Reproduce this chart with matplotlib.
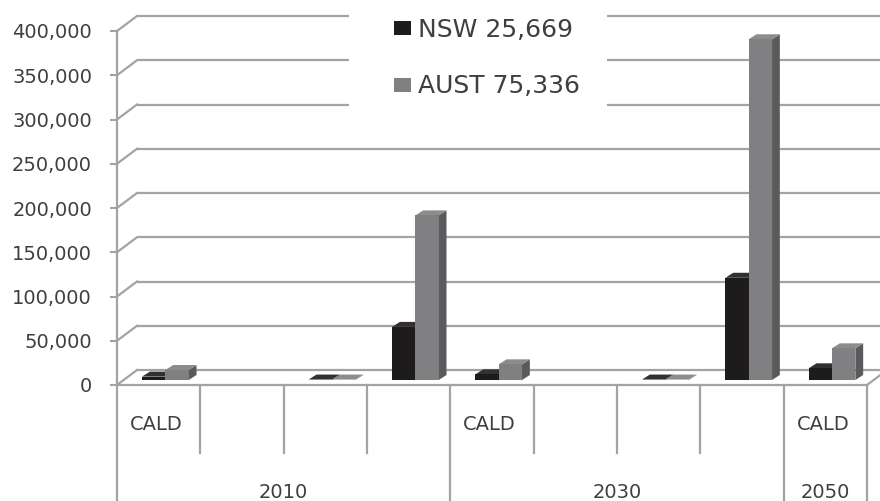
import numpy as np
import matplotlib
matplotlib.use("Agg")
import matplotlib.pyplot as plt
from matplotlib.patches import Polygon, Rectangle
import matplotlib.transforms as mtransforms

# ---- data -------------------------------------------------------------
categories = ["CALD", "", "", "", "CALD", "", "", "", "CALD"]
groups = ["2010", "2030", "2050"]
group_sizes = [4, 4, 1]
nsw = [3800, np.nan, 500, 60000, 6400, np.nan, 500, 115500, 13200]
aust = [11300, np.nan, 500, 186000, 17700, np.nan, 500, 385000, 35800]
series_labels = ["NSW 25,669", "AUST 75,336"]
yticks = [0, 50000, 100000, 150000, 200000, 250000, 300000, 350000, 400000]

# ---- style ------------------------------------------------------------
W, H, DPI = 880, 501, 100
grid_c = "#a3a3a3"
text_c = "#3f3f3f"
nsw_cols = dict(front="#1e1b1c", top="#323031", side="#141213")
aust_cols = dict(front="#808083", top="#8c8c8e", side="#5a5a5c")

fig = plt.figure(figsize=(W / DPI, H / DPI), dpi=DPI)
fig.patch.set_facecolor("white")

# plotting area: category 0..9 along x, value 0..400000 along y
ax_l, ax_r, ax_top, ax_bot = 117, 867, 31, 385
ax = fig.add_axes([ax_l / W, (H - ax_bot) / H, (ax_r - ax_l) / W, (ax_bot - ax_top) / H])
ncat = len(categories)
ax.set_xlim(0, ncat)
ax.set_ylim(0, max(yticks))
ax.set_facecolor("none")
for s in ax.spines.values():
    s.set_visible(False)
ax.set_xticks([])

px_x = (ax_r - ax_l) / ncat            # pixels per category
px_y = (ax_bot - ax_top) / max(yticks)  # pixels per value unit


def dx(p):
    return p / px_x


def dy(p):
    return p / px_y


# depth of the floor / walls, in pixels
DEPTH = (20, 15)
FRONT = (6.7, 5.0)    # front plane of the columns
BACK = (14.5, 10.0)   # back plane of the columns

# y axis ticks and labels
ax.set_yticks(yticks)
ax.set_yticklabels([f"{v:,}" for v in yticks])
ax.tick_params(axis="y", direction="out", length=5, width=1.5, color=grid_c,
               pad=13, labelsize=14, labelcolor=text_c)

# back-wall gridlines and side-wall diagonals
for v in yticks:
    ax.plot([dx(DEPTH[0]), ncat + 1], [v + dy(DEPTH[1])] * 2, color=grid_c,
            lw=1.6, clip_on=False, zorder=1, solid_capstyle="butt")
    ax.plot([0, dx(DEPTH[0])], [v, v + dy(DEPTH[1])], color=grid_c,
            lw=1.6, clip_on=False, zorder=1)

# floor: front edge and right edge
ax.plot([0, ncat], [0, 0], color=grid_c, lw=1.6, clip_on=False, zorder=1)
ax.plot([ncat, ncat + dx(DEPTH[0])], [0, dy(DEPTH[1])], color=grid_c,
        lw=1.6, clip_on=False, zorder=1)

# vertical axis line, running down through the category labels
ax.plot([0, 0], [max(yticks), -dy(H - ax_bot)], color=grid_c, lw=1.6,
        clip_on=False, zorder=1)

# category separators
group_edges = np.concatenate([[0], np.cumsum(group_sizes)])
for i in range(1, ncat + 1):
    if i in group_edges:
        bottom = -dy(H - ax_bot)
    else:
        bottom = -dy(68)
    ax.plot([i, i], [0, bottom], color=grid_c, lw=1.6, clip_on=False, zorder=1)

# category and group labels
for i, lab in enumerate(categories):
    if lab:
        ax.text(i + 0.47, -dy(40), lab, ha="center", va="center",
                fontsize=14, color=text_c, clip_on=False)
for g, lab in enumerate(groups):
    centre = (group_edges[g] + group_edges[g + 1]) / 2
    ax.text(centre, -dy(107), lab, ha="center", va="center",
            fontsize=14, color=text_c, clip_on=False)

# columns
gap, bw = 0.22, 0.28
z = 3


def draw_column(x0, val, cols):
    global z
    fx, fy = dx(FRONT[0]), dy(FRONT[1])
    bx, by = dx(BACK[0]), dy(BACK[1])
    side = [(x0 + fx + bw, fy), (x0 + bx + bw, by),
            (x0 + bx + bw, by + val), (x0 + fx + bw, fy + val)]
    top = [(x0 + fx, fy + val), (x0 + fx + bw, fy + val),
           (x0 + bx + bw, by + val), (x0 + bx, by + val)]
    ax.add_patch(Polygon(side, closed=True, facecolor=cols["side"], lw=0, zorder=z))
    ax.add_patch(Polygon(top, closed=True, facecolor=cols["top"], lw=0, zorder=z + 1))
    ax.bar(x0 + fx, val, width=bw, bottom=fy, align="edge",
           color=cols["front"], lw=0, zorder=z + 2)
    z += 3


for i in range(ncat):
    if not np.isnan(nsw[i]):
        draw_column(i + gap, nsw[i], nsw_cols)
    if not np.isnan(aust[i]):
        draw_column(i + gap + bw, aust[i], aust_cols)

# legend panel (pixel coordinates, origin top-left)
pix = mtransforms.Affine2D().scale(1 / W, -1 / H).translate(0, 1) + fig.transFigure
fig.add_artist(Rectangle((349, 0), 258, 114, transform=pix, facecolor="white",
                         edgecolor="none", zorder=5))
for k, (lab, col) in enumerate(zip(series_labels, [nsw_cols["front"], aust_cols["front"]])):
    ytop = 21 + k * 57
    fig.add_artist(Rectangle((394, ytop), 17, 14, transform=pix, facecolor=col,
                             edgecolor="none", zorder=6))
    fig.text(418 / W, 1 - (ytop + 15.5) / H, lab, ha="left", va="baseline",
             fontsize=18, color=text_c, zorder=6)

fig.savefig("out.png", dpi=DPI)
